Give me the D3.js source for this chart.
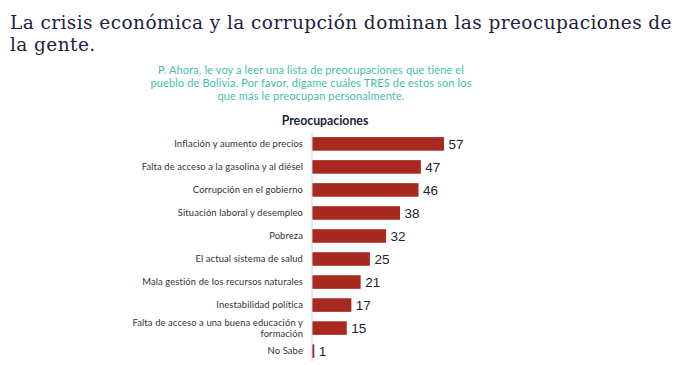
<!DOCTYPE html>
<html><head><meta charset="utf-8">
<script src="https://cdn.jsdelivr.net/npm/d3@7"></script>
<style>body{margin:0;background:#fff}svg{display:block}</style>
</head><body><svg id="c" width="696" height="365"></svg>
<script>
const categories = [
  ["Inflación y aumento de precios"],
  ["Falta de acceso a la gasolina y al diésel "],
  ["Corrupción en el gobierno"],
  ["Situación laboral y desempleo"],
  ["Pobreza"],
  ["El actual sistema de salud "],
  ["Mala gestión de los recursos naturales"],
  ["Inestabilidad política"],
  ["Falta de acceso a una buena educación y", "formación"],
  ["No Sabe"]
];
const values = [57, 47, 46, 38, 32, 25, 21, 17, 15, 1];
const titleLines = ["La crisis económica y la corrupción dominan las preocupaciones de", "la gente."];
const subtitleLines = ["P. Ahora, le voy a leer una lista de preocupaciones que tiene el", "pueblo de Bolivia. Por favor, dígame cuáles TRES de estos son los", "que más le preocupan personalmente."];
const chartTitle = "Preocupaciones";

const svg = d3.select("#c");
const ids = categories.map((d, i) => i);

const x = d3.scaleLinear().domain([0, 57]).range([312, 444]);
const y = d3.scaleBand().domain(ids).range([132.5, 362.5]).paddingInner(0.41).paddingOuter(0.2);

// title
const tt = svg.append("g").selectAll("text").data(titleLines).join("text")
  .attr("x", 10).attr("y", (d, i) => 29 + i * 22)
  .attr("font-family", "'DejaVu Serif', serif").attr("font-size", 18.5)
  .attr("fill", "#1c2341").text(d => d);
{
  const first = tt.nodes()[0];
  const w = first.getComputedTextLength();
  const n = titleLines[0].length;
  const ls = (662 - w) / n;
  tt.attr("letter-spacing", ls);
}

// subtitle
svg.append("g").selectAll("text").data(subtitleLines).join("text")
  .attr("x", 311).attr("y", (d, i) => 73.5 + i * 13.3)
  .attr("text-anchor", "middle")
  .attr("font-family", "Lato, sans-serif").attr("font-size", 11)
  .attr("letter-spacing", 0.13)
  .attr("fill", "#3fbfa9").text(d => d);

svg.append("text").attr("x", 325).attr("y", 124.5).attr("text-anchor", "middle")
  .attr("font-family", "Lato, sans-serif").attr("font-weight", "bold").attr("font-size", 12.3)
  .attr("fill", "#1c2341").text(chartTitle);

// bars
svg.append("g").selectAll("rect").data(values).join("rect")
  .attr("x", x(0)).attr("y", (d, i) => y(i))
  .attr("width", d => x(d) - x(0)).attr("height", y.bandwidth())
  .attr("fill", "#a8291f");

// axis line
svg.append("line").attr("x1", 312).attr("x2", 312).attr("y1", 132).attr("y2", 362)
  .attr("stroke", "#c9d6ea").attr("stroke-width", 1);

// category labels
const lab = svg.append("g").selectAll("text").data(categories).join("text")
  .attr("x", 303)
  .attr("text-anchor", "end")
  .attr("font-family", "Lato, sans-serif").attr("font-size", 9.4)
  .attr("letter-spacing", 0.12)
  .attr("fill", "#333");
lab.each(function(lines, i){
  const t = d3.select(this);
  const cy = y(i) + y.bandwidth() / 2;
  const lh = 11.5;
  const y0 = cy - (lines.length - 1) * lh / 2 + 3.2;
  lines.forEach((l, k) => {
    t.append("tspan").attr("x", 303).attr("y", y0 + k * lh).text(l);
  });
});

// value labels
svg.append("g").selectAll("text").data(values).join("text")
  .attr("x", d => x(d) + 4.5).attr("y", (d, i) => y(i) + y.bandwidth() / 2 + 4.8)
  .attr("font-family", "'Liberation Sans', Arial, sans-serif").attr("font-size", 13.5)
  .attr("fill", "#1e2233").text(d => d);
</script></body></html>
